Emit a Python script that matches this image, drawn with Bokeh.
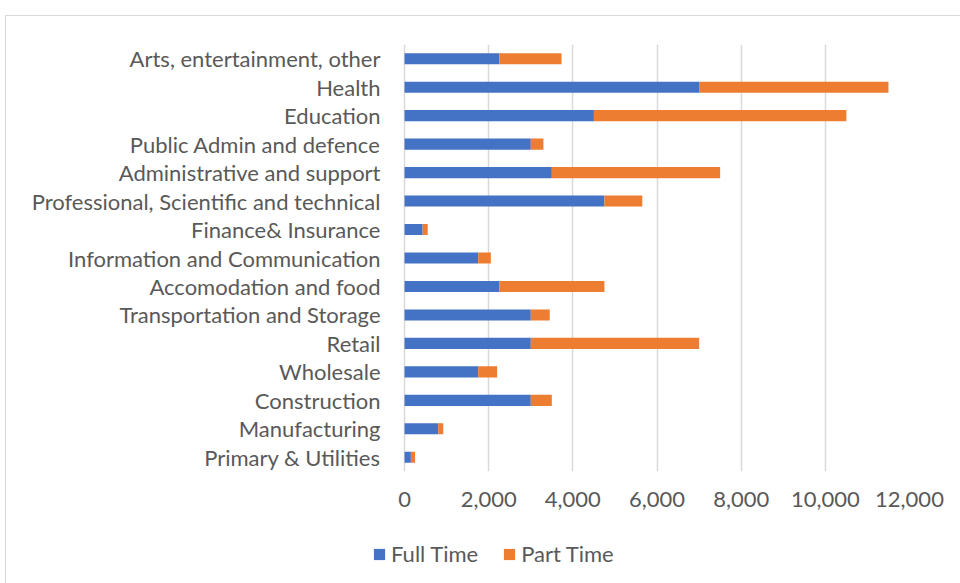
from bokeh.plotting import figure
from bokeh.layouts import column
from bokeh.models import ColumnDataSource, FactorRange, FixedTicker, NumeralTickFormatter, Legend, LegendItem
from bokeh.embed import file_html
from bokeh.resources import INLINE

categories = [
    "Arts, entertainment, other",
    "Health",
    "Education",
    "Public Admin and defence",
    "Administrative and support",
    "Professional, Scientific and technical",
    "Finance& Insurance",
    "Information and Communication",
    "Accomodation and food",
    "Transportation and Storage",
    "Retail",
    "Wholesale",
    "Construction",
    "Manufacturing",
    "Primary & Utilities",
]
full_time = [2250, 7000, 4500, 3000, 3500, 4750, 430, 1750, 2250, 3000, 3000, 1750, 3000, 800, 150]
part_time = [1480, 4500, 6000, 300, 4000, 900, 120, 300, 2500, 450, 4000, 450, 500, 120, 100]
x_ticks = [0, 2000, 4000, 6000, 8000, 10000, 12000]
series_names = ["Full Time", "Part Time"]
colors = ["#4472C4", "#ED7D31"]

FONT = "Lato"
FS = "22px"
TEXT_COLOR = "#595959"
BORDER = "1px solid #d9d9d9"

# layout (pixels)
FIG_LEFT = 6
ZERO_X = 404
PLOT_RIGHT = 908
FRAME_LEFT = 372          # frame starts a little left of zero so the legend below can line up
LABEL_RIGHT = 386
MAIN_H = 525
px_per_unit = (PLOT_RIGHT - ZERO_X) / x_ticks[-1]
x_start = -(ZERO_X - FRAME_LEFT) / px_per_unit

source = ColumnDataSource(dict(cat=categories, full=full_time, part=part_time))

p = figure(
    width=955, height=MAIN_H,
    y_range=FactorRange(*list(reversed(categories)), range_padding=0),
    x_range=(x_start, x_ticks[-1]),
    output_backend="svg", toolbar_location=None,
    min_border_left=FRAME_LEFT - FIG_LEFT, min_border_right=960 - PLOT_RIGHT,
    min_border_top=28, min_border_bottom=MAIN_H + 15 - 470,
    background_fill_color="white", border_fill_color="white",
)
p.margin = (15, 0, 0, 5)
p.styles = {"border-top": BORDER, "border-left": BORDER}
p.outline_line_color = None

p.hbar_stack(["full", "part"], y="cat", height=0.39, color=colors, line_color=None, source=source)

p.ygrid.grid_line_color = None
p.xgrid.grid_line_color = "#d9d9d9"
p.xgrid.grid_line_width = 1.5
p.xgrid.ticker = FixedTicker(ticks=x_ticks)

p.xaxis.ticker = FixedTicker(ticks=x_ticks)
p.xaxis.formatter = NumeralTickFormatter(format="0,0")
for ax in (p.xaxis[0], p.yaxis[0]):
    ax.axis_line_color = None
    ax.major_tick_line_color = None
    ax.minor_tick_line_color = None
    ax.major_label_text_font = FONT
    ax.major_label_text_font_size = FS
    ax.major_label_text_color = TEXT_COLOR
p.xaxis.major_label_standoff = 14
p.yaxis.major_label_standoff = FRAME_LEFT - LABEL_RIGHT

# legend strip below the chart
lf = figure(
    width=955, height=583 - 15 - MAIN_H, x_range=(0, 1), y_range=(0, 1),
    x_axis_type=None, y_axis_type=None,
    output_backend="svg", toolbar_location=None,
    min_border_left=FRAME_LEFT - FIG_LEFT, min_border_right=960 - PLOT_RIGHT,
    min_border_top=0, min_border_bottom=0,
    background_fill_color="white", border_fill_color="white",
)
lf.margin = (0, 0, 0, 5)
lf.styles = {"border-left": BORDER}
lf.outline_line_color = None
lf.xgrid.grid_line_color = None
lf.ygrid.grid_line_color = None
# zero-size proxy bars that only serve as legend swatches
proxy = ColumnDataSource(dict(y=[0], left=[0], right=[0]))
dummy = [lf.hbar(y="y", left="left", right="right", height=0, color=c, line_color=None, source=proxy)
         for c in colors]

legend = Legend(
    items=[LegendItem(label=series_names[i], renderers=[dummy[i]], index=0) for i in range(2)],
    orientation="horizontal",
    location="top_left",
    label_text_font=FONT, label_text_font_size=FS, label_text_color=TEXT_COLOR,
    glyph_width=14, glyph_height=14, spacing=24, label_standoff=5,
    padding=0, margin=0,
    border_line_color=None, background_fill_alpha=0,
)
lf.add_layout(legend, "center")

layout = column(p, lf, spacing=0)
open("out.html", "w").write(file_html(layout, INLINE))
